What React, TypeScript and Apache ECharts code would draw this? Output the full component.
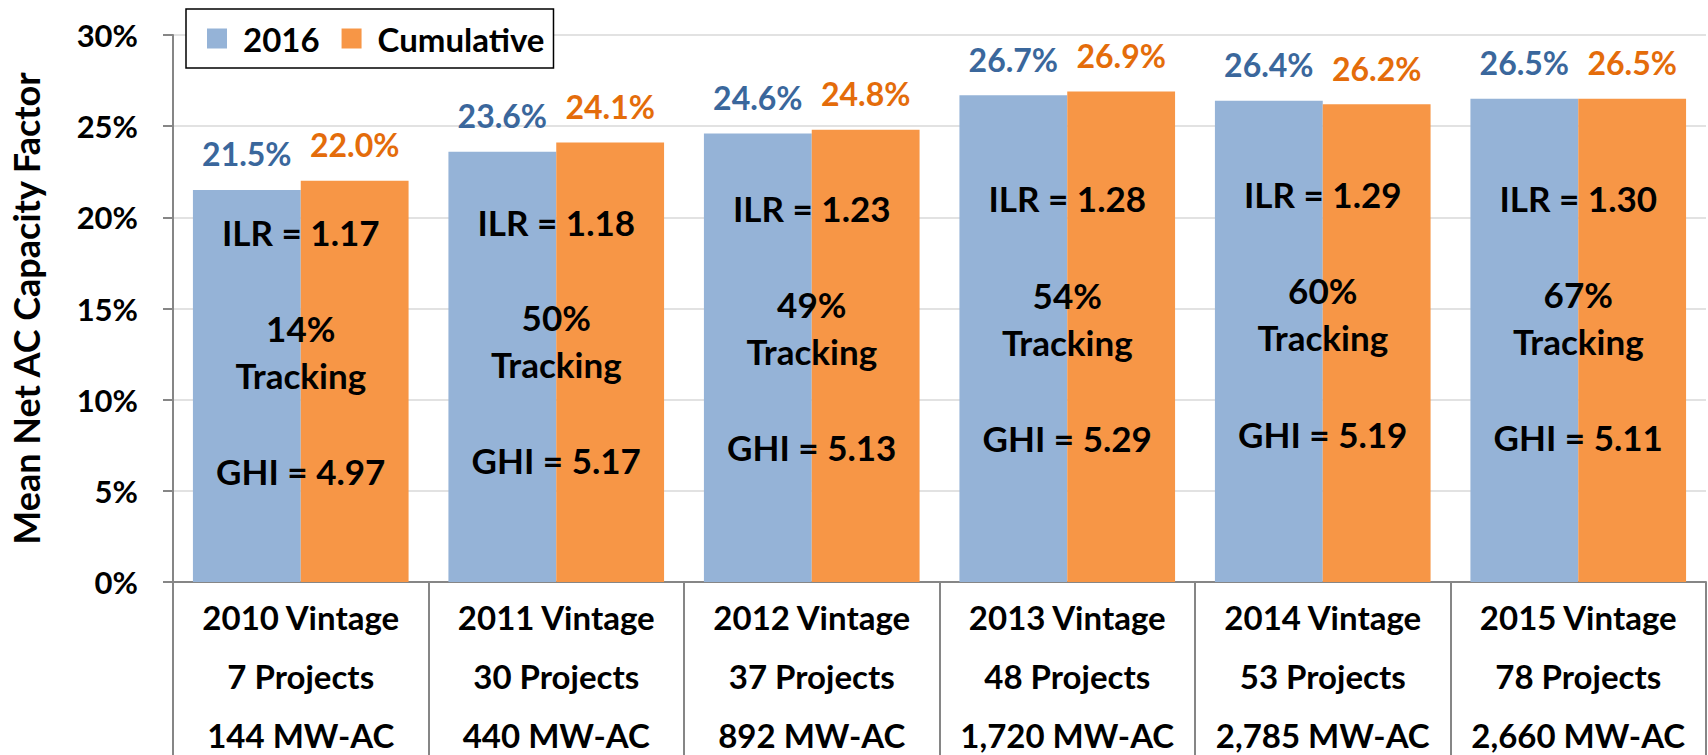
import React, { useEffect, useRef } from "react";
import * as echarts from "echarts";

// ---- data ----
const categories = ["2010 Vintage", "2011 Vintage", "2012 Vintage", "2013 Vintage", "2014 Vintage", "2015 Vintage"];
const projectCounts = ["7", "30", "37", "48", "53", "78"];
const capacityMWAC = ["144", "440", "892", "1,720", "2,785", "2,660"];
const cf2016 = [21.5, 23.6, 24.6, 26.7, 26.4, 26.5];
const cfCumulative = [22.0, 24.1, 24.8, 26.9, 26.2, 26.5];
const ilrValues = ["1.17", "1.18", "1.23", "1.28", "1.29", "1.30"];
const trackingShares = ["14%", "50%", "49%", "54%", "60%", "67%"];
const ghiValues = ["4.97", "5.17", "5.13", "5.29", "5.19", "5.11"];
const yTicks = [0, 5, 10, 15, 20, 25, 30];

// annotation anchor heights (in axis units, %)
const ilrAnchor = [19.21, 19.76, 20.5, 21.04, 21.29, 21.06];
const trackingAnchor = [12.65, 13.23, 13.97, 14.46, 14.74, 14.53];
const ghiAnchor = [6.07, 6.69, 7.42, 7.88, 8.13, 7.97];

const FONT = "Lato";
const AXIS_GRAY = "#868686";

export default function App() {
  const ref = useRef<HTMLDivElement>(null);

  useEffect(() => {
    if (!ref.current) return;
    const chart = echarts.init(ref.current, undefined, { renderer: "svg" });

    const xLabels = categories.map(
      (c, i) => `${c}\n${projectCounts[i]} Projects\n${capacityMWAC[i]} MW-AC`
    );

    const annotationSeries = (
      name: string,
      anchors: number[],
      texts: (i: number) => string,
      lineHeight: number
    ) => ({
      name,
      type: "scatter",
      symbolSize: 0,
      silent: true,
      z: 10,
      itemStyle: { opacity: 1 },
      data: anchors.map((v, i) => [i, v]),
      label: {
        show: true,
        position: "inside",
        formatter: (p: any) => texts(p.dataIndex),
        color: "#000",
        opacity: 1,
        textBorderWidth: 0,
        textBorderColor: "transparent",
        fontFamily: FONT,
        fontWeight: "bold",
        fontSize: 35,
        lineHeight,
        align: "center",
        verticalAlign: "middle",
      },
    });

    chart.setOption({
      animation: false,
      backgroundColor: "#fff",
      textStyle: { fontFamily: FONT },
      grid: {
        left: 173,
        right: 2,
        top: 35,
        bottom: 173,
        containLabel: false,
        outerBoundsMode: "none",
      },
      legend: {
        data: ["2016", "Cumulative"],
        left: 186,
        top: 9,
        orient: "horizontal",
        backgroundColor: "#fff",
        borderColor: "#000",
        borderWidth: 1.5,
        borderRadius: 0,
        padding: [13, 9, 13, 21],
        itemWidth: 20,
        itemHeight: 20,
        itemGap: 22,
        icon: "rect",
        textStyle: {
          fontFamily: FONT,
          fontWeight: "bold",
          fontSize: 33,
          color: "#000",
          padding: [0, 0, 0, 11],
        },
      },
      xAxis: {
        type: "category",
        data: xLabels,
        axisLine: { show: true, lineStyle: { color: AXIS_GRAY, width: 2 } },
        axisTick: {
          show: true,
          interval: 0,
          length: 175,
          lineStyle: { color: AXIS_GRAY, width: 2 },
        },
        axisLabel: {
          interval: 0,
          margin: 5,
          color: "#000",
          fontFamily: FONT,
          fontWeight: "bold",
          fontSize: 33,
          lineHeight: 59,
        },
      },
      yAxis: {
        type: "value",
        min: yTicks[0],
        max: yTicks[yTicks.length - 1],
        interval: 5,
        name: "Mean Net AC Capacity Factor",
        nameLocation: "middle",
        nameGap: 129,
        nameRotate: 90,
        nameTextStyle: {
          color: "#000",
          fontFamily: FONT,
          fontWeight: "bold",
          fontSize: 36,
        },
        axisLine: { show: true, lineStyle: { color: AXIS_GRAY, width: 2 } },
        axisTick: { show: true, length: 10, lineStyle: { color: AXIS_GRAY, width: 2 } },
        splitLine: { show: true, lineStyle: { color: "#D9D9D9", width: 1.5 } },
        axisLabel: {
          formatter: "{value}%",
          margin: 35,
          color: "#000",
          fontFamily: FONT,
          fontWeight: "bold",
          fontSize: 31,
        },
      },
      series: [
        {
          name: "2016",
          type: "bar",
          data: cf2016,
          barGap: "0%",
          barCategoryGap: "15.6%",
          itemStyle: { color: "#95B3D7" },
          label: {
            show: true,
            position: "top",
            distance: 20,
            formatter: (p: any) => `${p.value.toFixed(1)}%`,
            color: "#3A679C",
            fontFamily: FONT,
            fontWeight: "bold",
            fontSize: 32,
          },
        },
        {
          name: "Cumulative",
          type: "bar",
          data: cfCumulative,
          barGap: "0%",
          barCategoryGap: "15.6%",
          itemStyle: { color: "#F79646" },
          label: {
            show: true,
            position: "top",
            distance: 20,
            formatter: (p: any) => `${p.value.toFixed(1)}%`,
            color: "#E46C0A",
            fontFamily: FONT,
            fontWeight: "bold",
            fontSize: 32,
          },
        },
        annotationSeries("ilr", ilrAnchor, (i) => `ILR = ${ilrValues[i]}`, 42),
        annotationSeries("tracking", trackingAnchor, (i) => `${trackingShares[i]}\nTracking`, 47),
        annotationSeries("ghi", ghiAnchor, (i) => `GHI = ${ghiValues[i]}`, 42),
      ],
    });

    return () => chart.dispose();
  }, []);

  return (
    <div
      ref={ref}
      style={{ position: "fixed", left: 0, top: 0, width: 1708, height: 755 }}
    />
  );
}
